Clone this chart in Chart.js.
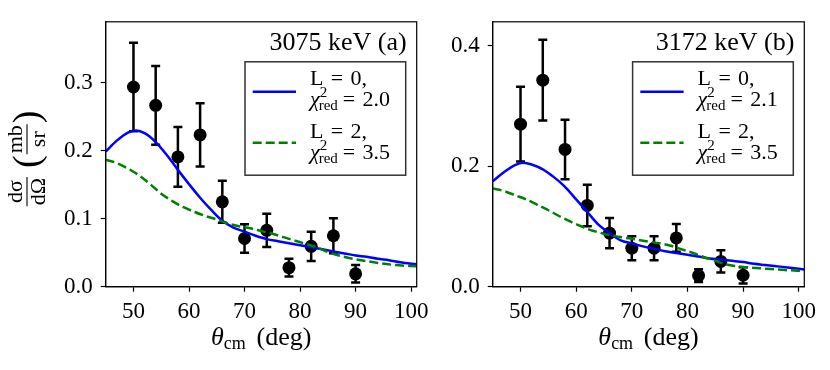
<!DOCTYPE html>
<html>
<head>
<meta charset="utf-8">
<script src="https://cdn.jsdelivr.net/npm/chart.js@4.4.0/dist/chart.umd.min.js"></script>
<style>
body { margin: 0; background: #fff; }
#wrap { position: relative; width: 830px; height: 370px; }
canvas { position: absolute; top: 0; }
</style>
</head>
<body>
<div id="wrap">
<canvas id="chartA" width="440" height="370" style="left:0px"></canvas>
<canvas id="chartB" width="400" height="370" style="left:430px"></canvas>
</div>
<script>
// DONNEES

const angles = [50, 54, 58, 62, 66, 70, 74, 78, 82, 86, 90];

const sigmaA = [0.294, 0.267, 0.191, 0.2235, 0.125, 0.071, 0.083, 0.028, 0.0595, 0.075, 0.019];
const errA = [0.065, 0.058, 0.044, 0.0465, 0.031, 0.021, 0.0245, 0.013, 0.0215, 0.0256, 0.013];

const sigmaB = [0.270, 0.343, 0.228, 0.135, 0.089, 0.064, 0.064, 0.081, 0.0185, 0.042, 0.019];
const errB = [0.062, 0.067, 0.0495, 0.0345, 0.025, 0.020, 0.020, 0.023, 0.0105, 0.0185, 0.0135];

const thetaL0 = [45, 47, 49, 50.5, 52, 54, 56, 58, 60, 62, 64, 66, 68, 70, 72, 74, 76, 78, 80, 82, 84, 86, 88, 90, 92, 94, 96, 98, 101];
const fitL0A = [0.199, 0.215, 0.227, 0.230, 0.226, 0.213, 0.194, 0.172, 0.151, 0.131, 0.113, 0.097, 0.087, 0.081, 0.075, 0.070, 0.067, 0.064, 0.061, 0.058, 0.055, 0.052, 0.049, 0.046, 0.044, 0.041, 0.039, 0.036, 0.033];
const fitL0B = [0.175, 0.190, 0.202, 0.206, 0.203, 0.195, 0.182, 0.166, 0.145, 0.124, 0.103, 0.089, 0.077, 0.072, 0.067, 0.063, 0.059, 0.056, 0.053, 0.050, 0.047, 0.045, 0.043, 0.041, 0.038, 0.036, 0.034, 0.032, 0.0285];

const thetaL2 = [45, 47, 49, 51, 53, 55, 57, 59, 61, 63, 65, 67, 69, 71, 73, 75, 77, 79, 81, 83, 85, 87, 89, 91, 94, 97, 101];
const fitL2A = [0.187, 0.182, 0.174, 0.164, 0.151, 0.137, 0.126, 0.117, 0.110, 0.104, 0.099, 0.093, 0.089, 0.086, 0.082, 0.078, 0.073, 0.068, 0.063, 0.058, 0.051, 0.046, 0.042, 0.039, 0.035, 0.032, 0.030];
const fitL2B = [0.163, 0.159, 0.152, 0.145, 0.136, 0.127, 0.117, 0.108, 0.100, 0.093, 0.088, 0.084, 0.081, 0.078, 0.075, 0.072, 0.068, 0.062, 0.056, 0.049, 0.043, 0.037, 0.034, 0.032, 0.030, 0.028, 0.026];

const legendL = ['L\u2004=\u20040,', 'L\u2004=\u20042,'];
const chiA = ['2.0', '3.5'];
const chiB = ['2.1', '3.5'];

const FONT = 'Liberation Serif';

// FIN DONNEES


function pts(xs, ys) {
    return xs.map((v, i) => ({ x: v, y: ys[i] }));
}

function makeChart(id, o) {

    const errorBars = {
        id: 'errorBars',
        beforeDatasetsDraw(chart) {
            const { ctx, scales: { x, y } } = chart;
            ctx.save();
            ctx.strokeStyle = '#000';
            ctx.lineWidth = 2.5;
            angles.forEach((t, i) => {
                const px = x.getPixelForValue(t);
                const top = y.getPixelForValue(o.sigma[i] + o.err[i]);
                const bot = y.getPixelForValue(o.sigma[i] - o.err[i]);
                ctx.beginPath();
                ctx.moveTo(px, top); ctx.lineTo(px, bot);
                ctx.moveTo(px - 4.5, top); ctx.lineTo(px + 4.5, top);
                ctx.moveTo(px - 4.5, bot); ctx.lineTo(px + 4.5, bot);
                ctx.stroke();
            });
            ctx.restore();
        }
    };

    const decor = {
        id: 'decor',
        afterDraw(chart) {
            const { ctx, chartArea: ca } = chart;
            ctx.save();

            // cadre
            ctx.strokeStyle = '#000';
            ctx.lineWidth = 1.2;
            ctx.strokeRect(ca.left, ca.top, ca.right - ca.left, ca.bottom - ca.top);

            // titre du panneau
            ctx.fillStyle = '#000';
            ctx.font = '26px "' + FONT + '"';
            ctx.textAlign = 'right';
            ctx.textBaseline = 'alphabetic';
            ctx.fillText(o.title, ca.right - 10, ca.top + 28.5);

            // legende
            const bx = ca.right - 171.7, by = ca.top + 40, bw = 160.7, bh = 113.4;
            ctx.fillStyle = '#fff';
            ctx.fillRect(bx, by, bw, bh);
            ctx.strokeStyle = '#333';
            ctx.lineWidth = 1.5;
            ctx.strokeRect(bx, by, bw, bh);

            ctx.lineWidth = 2.5;
            ctx.strokeStyle = '#0000ff';
            ctx.beginPath(); ctx.moveTo(bx + 7.7, by + 30); ctx.lineTo(bx + 51, by + 30); ctx.stroke();
            ctx.strokeStyle = '#008000';
            ctx.setLineDash([9, 4]);
            ctx.beginPath(); ctx.moveTo(bx + 7.7, by + 81); ctx.lineTo(bx + 51, by + 81); ctx.stroke();
            ctx.setLineDash([]);

            ctx.fillStyle = '#000';
            ctx.textAlign = 'left';
            const tx = bx + 65;
            [[23.4, 44.4], [76, 96.7]].forEach((b, i) => {
                ctx.font = '22px "' + FONT + '"';
                ctx.fillText(legendL[i], tx, by + b[0]);
                ctx.font = 'italic 22px "' + FONT + '"';
                ctx.fillText('χ', tx, by + b[1]);
                const wc = ctx.measureText('χ').width;
                ctx.font = '15px "' + FONT + '"';
                ctx.fillText('2', tx + wc, by + b[1] - 9);
                ctx.fillText('red', tx + wc - 1, by + b[1] + 4);
                const ws = ctx.measureText('red').width;
                ctx.font = '22px "' + FONT + '"';
                ctx.fillText('=\u2004' + o.chi[i], tx + wc + ws + 4, by + b[1]);
            });

            // titre axe x
            const yb = ca.bottom + 58;
            ctx.font = 'italic 26px "' + FONT + '"';
            const w1 = ctx.measureText('θ').width;
            ctx.font = '18px "' + FONT + '"';
            const w2 = ctx.measureText('cm').width;
            ctx.font = '26px "' + FONT + '"';
            const w3 = ctx.measureText('\u2004(deg)').width;
            let x0 = (ca.left + ca.right) / 2 - (w1 + w2 + w3 + 2) / 2;
            ctx.font = 'italic 26px "' + FONT + '"';
            ctx.fillText('θ', x0, yb);
            ctx.font = '18px "' + FONT + '"';
            ctx.fillText('cm', x0 + w1, yb + 4);
            ctx.font = '26px "' + FONT + '"';
            ctx.fillText('\u2004(deg)', x0 + w1 + w2 + 2, yb);

            // titre axe y
            if (o.yTitle) {
                ctx.translate(27, (ca.top + ca.bottom) / 2);
                ctx.rotate(-Math.PI / 2);
                ctx.lineWidth = 1.1;
                ctx.strokeStyle = '#000';
                const fr = (num, den, u) => {
                    const wn = ctx.measureText(num).width, wd = ctx.measureText(den).width;
                    const w = Math.max(wn, wd) + 2;
                    ctx.textAlign = 'center';
                    ctx.fillText(num, u + w / 2, -5);
                    ctx.fillText(den, u + w / 2, 18);
                    ctx.beginPath(); ctx.moveTo(u, 0); ctx.lineTo(u + w, 0); ctx.stroke();
                    return w;
                };
                let u = -52;
                ctx.font = '22px "' + FONT + '"';
                u += fr('dσ', 'dΩ', u) + 9;
                ctx.font = '38px "' + FONT + '"';
                ctx.textAlign = 'left';
                ctx.fillText('(', u, 12);
                u += ctx.measureText('(').width + 1;
                ctx.font = '22px "' + FONT + '"';
                u += fr('mb', 'sr', u) + 1;
                ctx.font = '38px "' + FONT + '"';
                ctx.textAlign = 'left';
                ctx.fillText(')', u, 12);
            }
            ctx.restore();
        }
    };

    const config = {
        type: 'scatter',
        data: {
            datasets: [{
                label: 'L = 2',
                data: pts(thetaL2, o.fitL2),
                showLine: true,
                borderColor: '#008000',
                borderWidth: 2.5,
                borderDash: [9, 4],
                pointRadius: 0,
                cubicInterpolationMode: 'monotone'
            }, {
                label: 'L = 0',
                data: pts(thetaL0, o.fitL0),
                showLine: true,
                borderColor: '#0000ff',
                borderWidth: 2.5,
                pointRadius: 0,
                cubicInterpolationMode: 'monotone'
            }, {
                label: 'data',
                data: pts(angles, o.sigma),
                backgroundColor: '#000',
                borderWidth: 0,
                pointRadius: 6.5
            }]
        },
        options: {
            responsive: false,
            animation: false,
            devicePixelRatio: 1,
            layout: { padding: { left: 0, right: o.padRight, top: 18.3, bottom: 0 } },
            plugins: { legend: { display: false }, tooltip: { enabled: false } },
            scales: {
                x: {
                    type: 'linear',
                    min: 45,
                    max: 101,
                    afterFit: (s) => { s.height = 83.3; },
                    ticks: { stepSize: 10, includeBounds: false, color: '#000', padding: 6, font: { family: FONT, size: 23 } },
                    grid: { drawOnChartArea: false, tickLength: 5, tickColor: '#000', tickWidth: 1.2 },
                    border: { color: '#000', width: 1.2 }
                },
                y: {
                    min: 0,
                    max: o.yMax,
                    afterFit: (s) => { s.width = o.yWidth; },
                    ticks: { stepSize: o.yStep, includeBounds: false, color: '#000', padding: 8, font: { family: FONT, size: 23 },
                        callback: (v) => v.toFixed(1) },
                    grid: { drawOnChartArea: false, tickLength: 5, tickColor: '#000', tickWidth: 1.2 },
                    border: { color: '#000', width: 1.2 }
                }
            }
        },
        plugins: [errorBars, decor]
    };

    return new Chart(document.getElementById(id), config);
}

// GRAPH (a)
const chartA = makeChart('chartA', {
    sigma: sigmaA, err: errA, fitL0: fitL0A, fitL2: fitL2A,
    yMax: 0.39, yStep: 0.1, yWidth: 105.7, padRight: 23.3,
    title: '3075 keV (a)', chi: chiA, yTitle: true
});

// GRAPH (b)
const chartB = makeChart('chartB', {
    sigma: sigmaB, err: errB, fitL0: fitL0B, fitL2: fitL2B,
    yMax: 0.44, yStep: 0.2, yWidth: 62.7, padRight: 25.7,
    title: '3172 keV (b)', chi: chiB, yTitle: false
});
</script>
</body>
</html>
